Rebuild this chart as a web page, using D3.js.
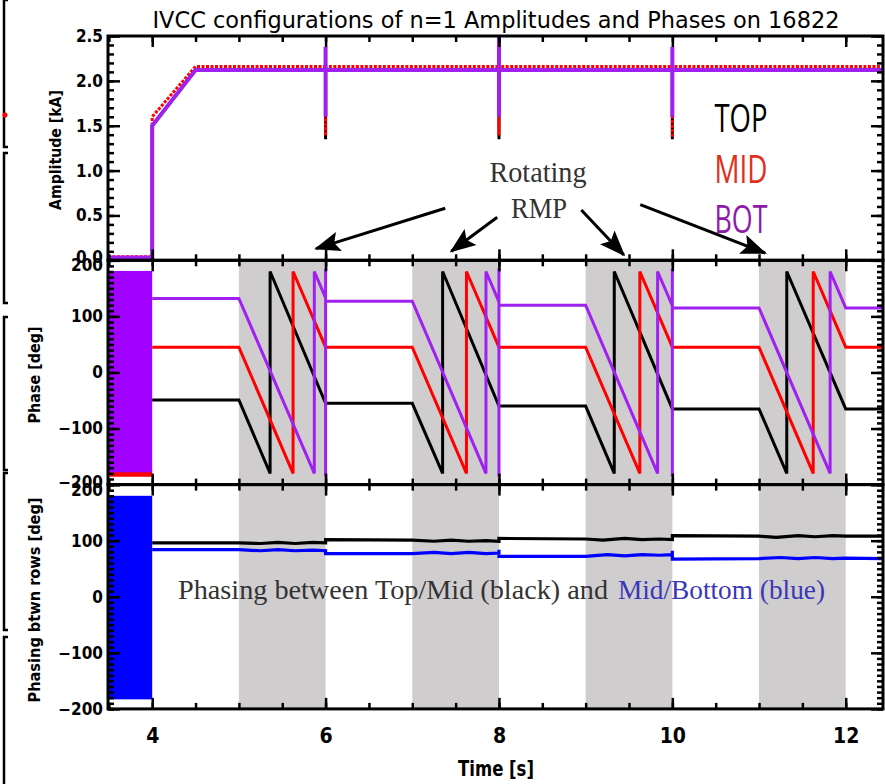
<!DOCTYPE html>
<html>
<head>
<meta charset="utf-8">
<script src="https://cdn.jsdelivr.net/npm/d3@7"></script>
<style>
  body { margin: 0; background: #fff; }
  svg { display: block; }
</style>
</head>
<body>
<div id="chart"></div>
<script>
// ---- Data ----
const chartTitle = "IVCC configurations of n=1 Amplitudes and Phases on 16822";
const xDomain = [3.49, 12.43];
const xMajor = [4, 6, 8, 10, 12];
const shadedPeriods = [[5, 6], [7, 8], [9, 10], [11, 12]];

const ampTicks = [0, 0.5, 1.0, 1.5, 2.0, 2.5];
const phaseTicks = [-200, -100, 0, 100, 200];

const legendNames = ["TOP", "MID", "BOT"];
const seriesColors = ["#000000", "#ff0000", "#a020f0"];
const legendColors = ["#000000", "#e0301e", "#8e1aa8"];

// amplitudes [time s, kA]
const ampTop = [[3.49, 0.03], [4.0, 0.03], [4.0, 1.5], [4.5, 2.12], [6.0, 2.12], [6.0, 1.35], [6.0, 2.12],
  [8.0, 2.12], [8.0, 1.35], [8.0, 2.12], [10.0, 2.12], [10.0, 1.35], [10.0, 2.12], [12.43, 2.12]];
const ampMid = [[3.49, 0.04], [4.0, 0.04], [4.0, 1.6], [4.5, 2.16], [6.0, 2.16], [6.0, 1.39], [6.0, 2.16],
  [8.0, 2.16], [8.0, 1.39], [8.0, 2.16], [10.0, 2.16], [10.0, 1.37], [10.0, 2.16], [12.43, 2.16]];
const ampBot = [[3.49, 0.03], [4.0, 0.03], [4.0, 1.5], [4.5, 2.12], [6.0, 2.12], [6.0, 2.38], [6.0, 1.6], [6.0, 2.12],
  [8.0, 2.12], [8.0, 2.5], [8.0, 1.6], [8.0, 2.12], [10.0, 2.12], [10.0, 2.38], [10.0, 1.6], [10.0, 2.12], [12.43, 2.12]];

// phases [time s, deg]
const phaseTop = [[4.0, -49], [5.0, -49], [5.36, -180], [5.36, 180], [6.0, -55], [7.0, -55], [7.35, -180], [7.35, 180],
  [8.0, -60], [9.0, -60], [9.33, -180], [9.33, 180], [10.0, -65], [11.0, -65], [11.32, -180], [11.32, 180],
  [12.0, -65], [12.43, -65]];
const phaseMid = [[4.0, 45], [5.0, 45], [5.625, -180], [5.625, 180], [6.0, 45], [7.0, 45], [7.625, -180], [7.625, 180],
  [8.0, 45], [9.0, 45], [9.625, -180], [9.625, 180], [10.0, 45], [11.0, 45], [11.625, -180], [11.625, 180],
  [12.0, 45], [12.43, 45]];
const phaseBot = [[4.0, 132], [5.0, 132], [5.87, -180], [5.87, 180], [6.0, 133], [6.0, 186], [6.0, -186], [6.0, 127],
  [7.0, 127], [7.85, -180], [7.85, 180], [8.0, 126], [8.0, 186], [8.0, -186], [8.0, 120],
  [9.0, 120], [9.83, -180], [9.83, 180], [10.0, 119], [10.0, 186], [10.0, -186], [10.0, 115],
  [11.0, 115], [11.82, -180], [11.82, 180], [12.0, 115], [12.43, 115]];

// phasing between rows [time s, deg]
const phasingTopMid = [[4.0, 96], [5.0, 96], [5.25, 95], [5.45, 97], [5.65, 95], [5.85, 97], [6.0, 96], [6.0, 102],
  [7.0, 101], [7.25, 99], [7.45, 101], [7.65, 99], [7.85, 100], [8.0, 99], [8.0, 104],
  [9.0, 103], [9.2, 101], [9.45, 104], [9.65, 102], [9.85, 103], [10.0, 102], [10.0, 109],
  [11.0, 108], [11.2, 106], [11.45, 109], [11.65, 107], [11.85, 109], [12.0, 108], [12.43, 108]];
const phasingMidBot = [[4.0, 84], [5.0, 84], [5.25, 82], [5.45, 84], [5.65, 82], [5.85, 83], [6.0, 82], [6.0, 77],
  [7.0, 77], [7.25, 79], [7.45, 77], [7.65, 79], [7.85, 77], [8.0, 78], [8.0, 84], [8.0, 72],
  [9.0, 72], [9.25, 75], [9.45, 73], [9.65, 75], [9.85, 74], [10.0, 75], [10.0, 82], [10.0, 67],
  [11.0, 68], [11.25, 70], [11.45, 68], [11.65, 70], [11.85, 68], [12.0, 69], [12.43, 68]];

// noisy signal before the coils settle (time range, value range)
const noiseTime = [3.49, 4.0];
const phaseNoiseRange = [-178, 181];
const phaseNoiseRedRange = [-186, -176];
const phasingNoiseRange = [-183, 180];

// "Rotating RMP" arrows in amplitude-panel units [t, kA] -> [t, kA]
const rmpArrows = [
  [[7.38, 0.58], [5.89, 0.13]],
  [[7.98, 0.48], [7.45, 0.10]],
  [[8.95, 0.56], [9.44, 0.06]],
  [[9.63, 0.62], [11.07, 0.08]]
];

// ---- Layout ----
const W = 885, H = 784;
const left = 108, right = 883;
const top0 = 36, panelH = 224.3;
const tickFont = "'DejaVu Sans Condensed', 'DejaVu Sans', sans-serif";

const svg = d3.select("#chart").append("svg")
  .attr("width", W).attr("height", H);

const x = d3.scaleLinear().domain(xDomain).range([left, right]);
const xMinor = d3.range(3.5, 12.45, 0.5);

const panels = [
  { domain: [0, 2.5], major: ampTicks, minor: d3.range(0, 2.501, 0.1), fmt: d3.format(".1f") },
  { domain: [-200, 200], major: phaseTicks, minor: d3.range(-200, 201, 10), fmt: d3.format("d") },
  { domain: [-200, 200], major: phaseTicks, minor: d3.range(-200, 201, 10), fmt: d3.format("d") }
];
panels.forEach((p, i) => {
  p.top = top0 + i * panelH;
  p.bottom = p.top + panelH;
  p.y = d3.scaleLinear().domain(p.domain).range([p.bottom, p.top]);
});

const defs = svg.append("defs");
panels.forEach((p, i) => {
  defs.append("clipPath").attr("id", "clip" + i)
    .append("rect").attr("x", left).attr("y", p.top)
    .attr("width", right - left).attr("height", p.bottom - p.top);
});
defs.append("marker").attr("id", "head")
  .attr("markerUnits", "userSpaceOnUse")
  .attr("viewBox", "-24 -11 26 22")
  .attr("markerWidth", 26).attr("markerHeight", 22)
  .attr("refX", 0).attr("refY", 0).attr("orient", "auto")
  .append("path").attr("d", "M2,0 L-24,-10 L-19,0 L-24,10 Z").attr("fill", "#000");

// shading in the phase panels
[1, 2].forEach(i => {
  const p = panels[i];
  svg.append("g").attr("clip-path", `url(#clip${i})`)
    .selectAll("rect").data(shadedPeriods).enter().append("rect")
    .attr("x", d => x(d[0])).attr("width", d => x(d[1]) - x(d[0]))
    .attr("y", p.top).attr("height", p.bottom - p.top)
    .attr("fill", "#d0cdce");
});

function drawLine(i, data, color, width, dash) {
  const p = panels[i];
  const line = d3.line().x(d => x(d[0])).y(d => p.y(d[1]));
  svg.append("path").datum(data)
    .attr("clip-path", `url(#clip${i})`)
    .attr("d", line)
    .attr("fill", "none")
    .attr("stroke", color)
    .attr("stroke-width", width)
    .attr("stroke-linejoin", "miter")
    .attr("stroke-dasharray", dash || null);
}

function drawBand(i, range, color) {
  const p = panels[i];
  svg.append("rect").attr("clip-path", `url(#clip${i})`)
    .attr("x", x(noiseTime[0])).attr("width", x(noiseTime[1]) - x(noiseTime[0]))
    .attr("y", p.y(range[1])).attr("height", p.y(range[0]) - p.y(range[1]))
    .attr("fill", color);
}

// amplitude panel
drawLine(0, ampTop, seriesColors[0], 3);
drawLine(0, ampMid, seriesColors[1], 3, "3,1.5");
drawLine(0, ampBot, seriesColors[2], 4);

// phase panel
drawBand(1, phaseNoiseRedRange, "#ff0000");
drawBand(1, phaseNoiseRange, "#a000ff");
drawLine(1, phaseTop, seriesColors[0], 3);
drawLine(1, phaseMid, seriesColors[1], 3);
drawLine(1, phaseBot, seriesColors[2], 3);

// phasing panel
drawBand(2, phasingNoiseRange, "#0000ff");
drawLine(2, phasingTopMid, "#000000", 3.2);
drawLine(2, phasingMidBot, "#0000ff", 3.2);

// axes, ticks on all four sides pointing inward
function styleAxis(g) {
  g.select(".domain").remove();
  g.selectAll(".tick line").attr("stroke", "#000").attr("stroke-width", 2.5);
  g.selectAll("text").attr("fill", "#000")
    .attr("font-family", tickFont).attr("font-weight", "bold");
}

panels.forEach((p, i) => {
  const g = svg.append("g");
  const labels = g.append("g").attr("transform", `translate(${left},0)`)
    .call(d3.axisLeft(p.y).tickValues(p.major).tickSizeInner(-12).tickSizeOuter(0).tickPadding(5).tickFormat(p.fmt))
    .call(styleAxis);
  labels.selectAll("text").attr("font-size", 17);
  // like the original, the end labels sit slightly inside the panel
  labels.selectAll(".tick").filter(d => d === p.domain[0] && i < 2).select("text").attr("y", -3);
  labels.selectAll(".tick").filter(d => d === p.domain[1] && i > 0).select("text").attr("y", 5);
  g.append("g").attr("transform", `translate(${left},0)`)
    .call(d3.axisLeft(p.y).tickValues(p.minor).tickSizeInner(-6).tickSizeOuter(0).tickFormat(""))
    .call(styleAxis);
  g.append("g").attr("transform", `translate(${right},0)`)
    .call(d3.axisRight(p.y).tickValues(p.major).tickSizeInner(-12).tickSizeOuter(0).tickFormat(""))
    .call(styleAxis);
  g.append("g").attr("transform", `translate(${right},0)`)
    .call(d3.axisRight(p.y).tickValues(p.minor).tickSizeInner(-6).tickSizeOuter(0).tickFormat(""))
    .call(styleAxis);
  g.append("g").attr("transform", `translate(0,${p.top})`)
    .call(d3.axisTop(x).tickValues(xMajor).tickSizeInner(-11).tickSizeOuter(0).tickFormat(""))
    .call(styleAxis);
  g.append("g").attr("transform", `translate(0,${p.top})`)
    .call(d3.axisTop(x).tickValues(xMinor).tickSizeInner(-6).tickSizeOuter(0).tickFormat(""))
    .call(styleAxis);
  g.append("g").attr("transform", `translate(0,${p.bottom})`)
    .call(d3.axisBottom(x).tickValues(xMajor).tickSizeInner(-11).tickSizeOuter(0).tickPadding(19)
      .tickFormat(i === 2 ? d3.format("d") : ""))
    .call(styleAxis)
    .selectAll("text").attr("font-size", 21);
  g.append("g").attr("transform", `translate(0,${p.bottom})`)
    .call(d3.axisBottom(x).tickValues(xMinor).tickSizeInner(-6).tickSizeOuter(0).tickFormat(""))
    .call(styleAxis);
  g.append("rect").attr("x", left).attr("y", p.top)
    .attr("width", right - left).attr("height", p.bottom - p.top)
    .attr("fill", "none").attr("stroke", "#000").attr("stroke-width", 3);
});

// titles
svg.append("text").attr("x", 496).attr("y", 28).attr("text-anchor", "middle")
  .attr("font-family", "'DejaVu Sans', sans-serif").attr("font-size", 23)
  .attr("textLength", 687).attr("lengthAdjust", "spacingAndGlyphs")
  .text(chartTitle);

svg.append("text").attr("x", 496).attr("y", 776).attr("text-anchor", "middle")
  .attr("font-family", tickFont).attr("font-weight", "bold").attr("font-size", 22)
  .attr("textLength", 76).attr("lengthAdjust", "spacingAndGlyphs")
  .text("Time [s]");

const yTitles = [
  { text: "Amplitude [kA]", x: 61, y: 150, len: 120 },
  { text: "Phase [deg]", x: 40, y: 375, len: 97 },
  { text: "Phasing btwn rows [deg]", x: 40, y: 600, len: 205 }
];
svg.selectAll(".ytitle").data(yTitles).enter().append("text")
  .attr("transform", d => `translate(${d.x},${d.y}) rotate(-90)`)
  .attr("text-anchor", "middle")
  .attr("font-family", tickFont).attr("font-weight", "bold").attr("font-size", 16)
  .attr("textLength", d => d.len).attr("lengthAdjust", "spacingAndGlyphs")
  .text(d => d.text);

// legend labels
const p0 = panels[0];
svg.selectAll(".legend").data(legendNames).enter().append("text")
  .attr("x", 741).attr("y", (d, i) => 132 + i * 50.5)
  .attr("text-anchor", "middle")
  .attr("font-family", "'Open Sans', 'Noto Sans', sans-serif").attr("font-size", 39)
  .attr("textLength", 53).attr("lengthAdjust", "spacingAndGlyphs")
  .attr("fill", (d, i) => legendColors[i])
  .text(d => d);

// Rotating RMP annotation
svg.append("text").attr("x", 538).attr("y", 182).attr("text-anchor", "middle")
  .attr("font-family", "'Liberation Serif', serif").attr("font-size", 30).attr("fill", "#333")
  .attr("textLength", 97).attr("lengthAdjust", "spacingAndGlyphs")
  .text("Rotating");
svg.append("text").attr("x", 539).attr("y", 218).attr("text-anchor", "middle")
  .attr("font-family", "'Liberation Serif', serif").attr("font-size", 30).attr("fill", "#333")
  .attr("textLength", 56).attr("lengthAdjust", "spacingAndGlyphs")
  .text("RMP");

svg.selectAll(".arrow").data(rmpArrows).enter().append("line")
  .attr("x1", d => x(d[0][0])).attr("y1", d => p0.y(d[0][1]))
  .attr("x2", d => x(d[1][0])).attr("y2", d => p0.y(d[1][1]))
  .attr("stroke", "#000").attr("stroke-width", 3)
  .attr("marker-end", "url(#head)");

// phasing note
svg.append("text").attr("x", 178).attr("y", 599)
  .attr("font-family", "'Liberation Serif', serif").attr("font-size", 28).attr("fill", "#333")
  .attr("textLength", 430).attr("lengthAdjust", "spacingAndGlyphs")
  .text("Phasing between Top/Mid (black) and");
svg.append("text").attr("x", 618).attr("y", 599)
  .attr("font-family", "'Liberation Serif', serif").attr("font-size", 28).attr("fill", "#3a36b8")
  .attr("textLength", 207).attr("lengthAdjust", "spacingAndGlyphs")
  .text("Mid/Bottom (blue)");

// remnants of the neighbouring figure along the left edge
const edge = svg.append("g").attr("fill", "none").attr("stroke", "#000").attr("stroke-width", 2.5);
[[0, 147], [153, 303], [317, 470], [473, 630], [637, 790]].forEach(s => {
  edge.append("path").attr("d", `M8,${s[0]} L4,${s[0]} L4,${s[1]} L8,${s[1]}`);
});
svg.append("circle").attr("cx", 5).attr("cy", 115).attr("r", 2.5).attr("fill", "#ff0000");
</script>
</body>
</html>
